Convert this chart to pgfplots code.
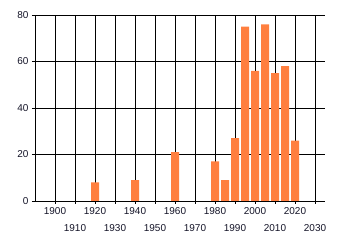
\documentclass[border=0pt]{standalone}
\usepackage{fontspec}
\setmainfont{Liberation Sans}
\usepackage{pgfplots}
\pgfplotsset{compat=1.18}
\definecolor{barorange}{RGB}{255,127,63}
\definecolor{txt}{RGB}{20,20,40}
\begin{document}
\fontsize{10pt}{12pt}\selectfont
\begin{tikzpicture}
\path[use as bounding box] (-35pt,-44pt) rectangle (305pt,201pt);
\begin{axis}[
  at={(0pt,0pt)}, anchor=south west,
  scale only axis, width=290pt, height=186pt,
  xmin=1890, xmax=2035, ymin=0, ymax=80,
  axis x line*=bottom, axis y line*=left,
  axis line style={black, line width=0.9pt},
  ytick={0,20,40,60,80},
  xtick={1900,1920,...,2020},
  extra x ticks={1910,1930,...,2030},
  extra x tick style={grid=major, xticklabel style={yshift=-17pt}},
  grid=major,
  major grid style={black, line width=0.9pt},
  tick align=outside, major tick length=3pt,
  tick style={black, line width=0.9pt},
  /pgf/number format/1000 sep={},
  /pgf/number format/assume math mode=true,
  ticklabel style={font=\fontsize{10pt}{12pt}\selectfont, text=txt},
]
\addplot[ybar, bar width=8pt, fill=barorange, draw=none] coordinates {
  (1920,8) (1940,9) (1960,21) (1980,17) (1985,9) (1990,27)
  (1995,75) (2000,56) (2005,76) (2010,55) (2015,58) (2020,26)
};
\end{axis}
\end{tikzpicture}
\end{document}
